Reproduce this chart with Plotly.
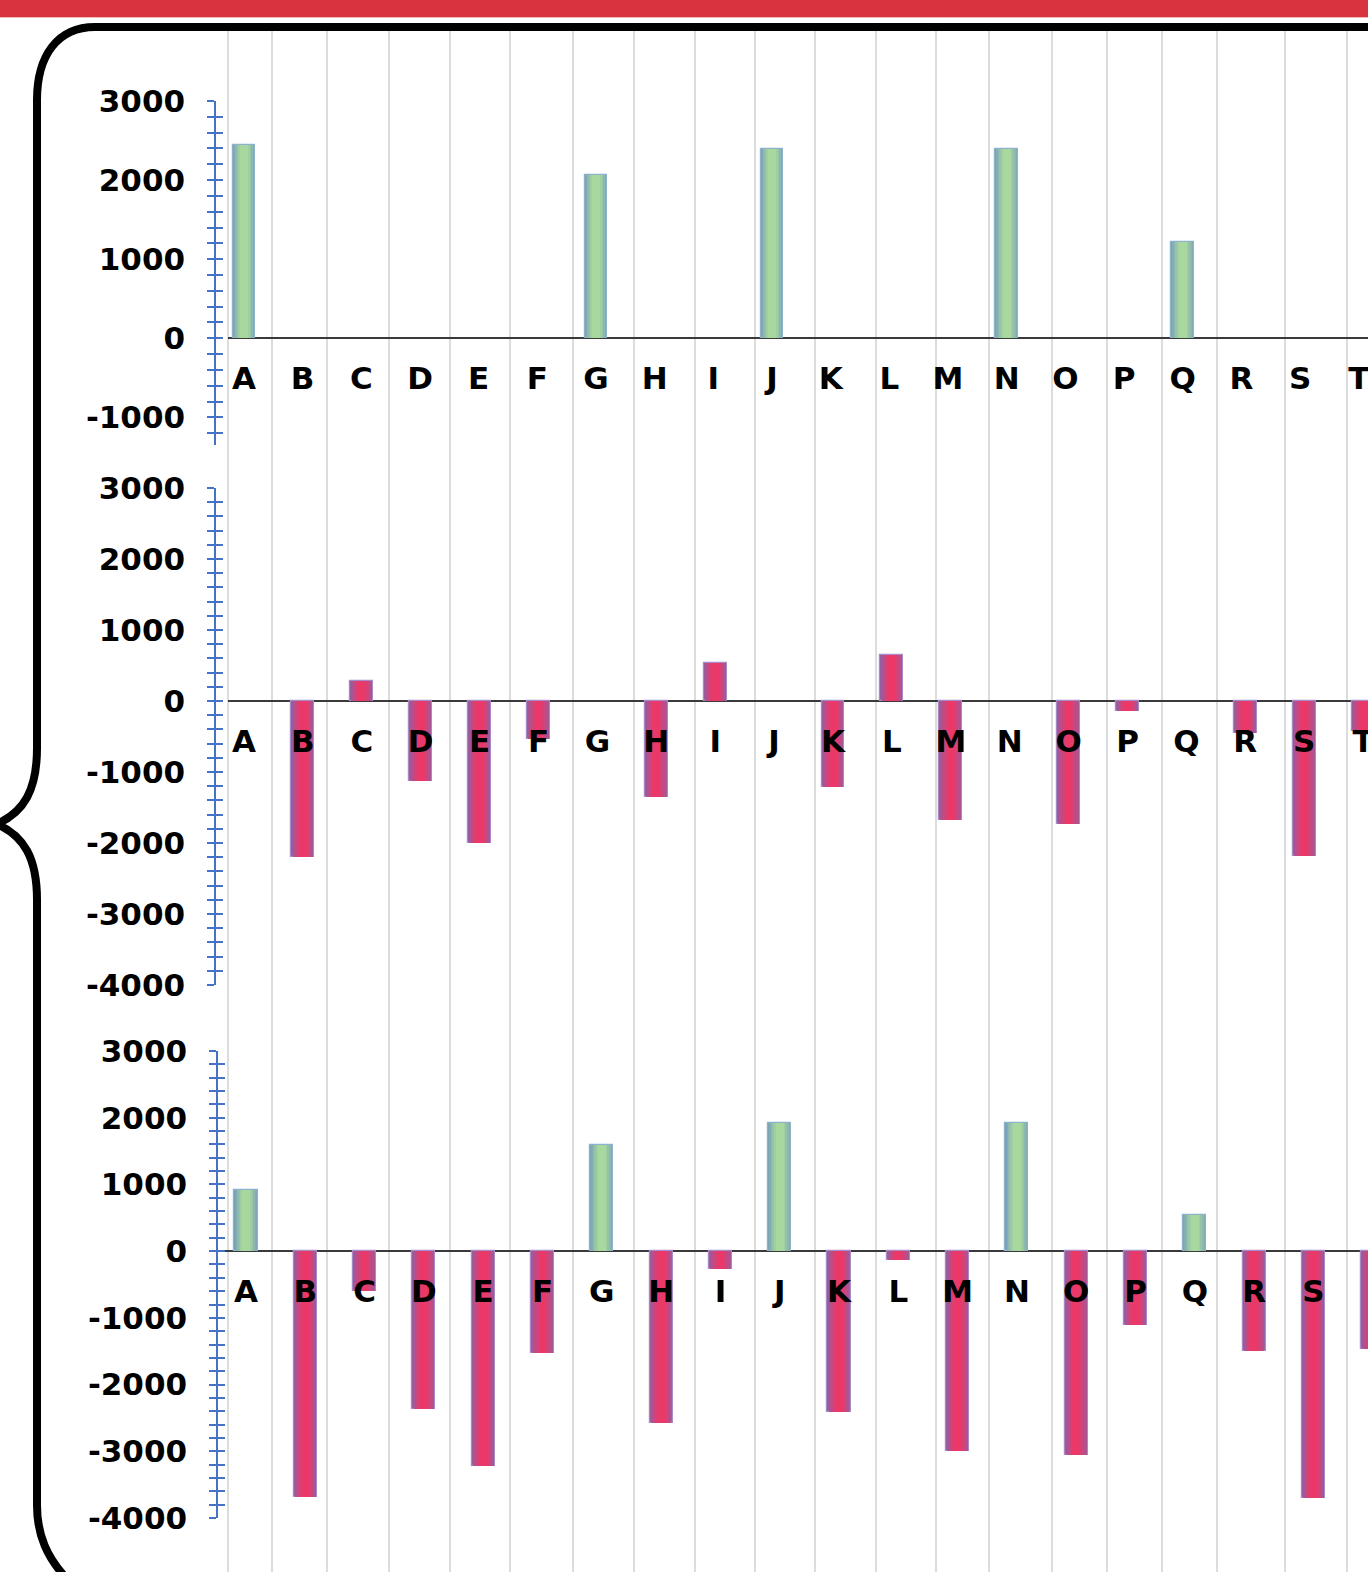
import plotly.graph_objects as go

# ---------------- data ----------------
categories = list("ABCDEFGHIJKLMNOPQRST")

panel1_values = [2440, 0, 0, 0, 0, 0, 2060, 0, 0, 2390, 0, 0, 0, 2390, 0, 0, 1220, 0, 0, 0]
panel2_values = [0, -2200, 280, -1130, -2000, -530, 0, -1350, 540, 0, -1210, 650, -1680, 0, -1730, -140, 0, -450, -2190, -420]
panel3_values = [920, -3690, -600, -2360, -3220, -1530, 1590, -2570, -270, 1920, -2410, -140, -3000, 1920, -3060, -1100, 540, -1490, -3700, -1460]

y_tick_vals = [-4000, -3000, -2000, -1000, 0, 1000, 2000, 3000]
y_tick_text = ["-4000", "-3000", "-2000", "-1000", "0", "1000", "2000", "3000"]

# ---------------- layout helpers ----------------
W, H = 1368, 1572


def px(x):
    return x / W


def py(y):
    return 1 - y / H


FONT = "DejaVu Sans"
AXIS_BLUE = "#4472c4"

GREEN_EDGE, GREEN_CENTER, GREEN_LINE = (122, 164, 182), (168, 216, 157), "#8db3cc"
RED_EDGE, RED_CENTER, RED_LINE = (150, 92, 160), (234, 57, 104), "#a88ac8"


def mix(a, b, t):
    return "rgb({},{},{})".format(*[round(a[k] + (b[k] - a[k]) * t) for k in range(3)])


# panel geometry; colour mode: 'green', 'red' or 'sign'
panels = [
    dict(vals=panel1_values, mode="green", yr=[-1350, 3000], top=101, bot=445, xl=228, c0=244, sp=58.67, ya=215),
    dict(vals=panel2_values, mode="red", yr=[-4000, 3000], top=488, bot=985, xl=228, c0=244, sp=58.9, ya=215),
    dict(vals=panel3_values, mode="sign", yr=[-4000, 3000], top=1051, bot=1518, xl=225, c0=246, sp=59.3, ya=217),
]

fig = go.Figure()

layer_widths = [0.39, 0.35, 0.30, 0.25, 0.19, 0.13]

layout_axes = {}
for i, p in enumerate(panels):
    n = i + 1
    xa = "x" if n == 1 else f"x{n}"
    ya = "y" if n == 1 else f"y{n}"
    xkey = "xaxis" if n == 1 else f"xaxis{n}"
    ykey = "yaxis" if n == 1 else f"yaxis{n}"
    vals = p["vals"]

    def is_green(v):
        if p["mode"] == "green":
            return True
        if p["mode"] == "red":
            return False
        return v >= 0

    nl = len(layer_widths)
    for layer, w in enumerate(layer_widths):
        t = layer / (nl - 1)
        cols = [mix(GREEN_EDGE, GREEN_CENTER, t) if is_green(v) else mix(RED_EDGE, RED_CENTER, t) for v in vals]
        line_cols = [GREEN_LINE if is_green(v) else RED_LINE for v in vals]
        line_w = [(1.2 if (layer == 0 and v != 0) else 0) for v in vals]
        fig.add_trace(go.Bar(
            x=categories, y=vals, xaxis=xa, yaxis=ya,
            width=w,
            marker=dict(color=cols, line=dict(color=line_cols, width=line_w)),
            showlegend=False, hoverinfo="x+y" if layer == 0 else "skip",
        ))

    d0, d1 = py(p["bot"]), py(p["top"])
    r0, r1 = p["yr"]
    zero_pos = d0 + (0 - r0) / (r1 - r0) * (d1 - d0)
    xr0 = -(p["c0"] - p["xl"]) / p["sp"]
    xr1 = (W - p["c0"]) / p["sp"]

    ticks_here = [(v, t) for v, t in zip(y_tick_vals, y_tick_text) if r0 <= v <= r1]

    layout_axes[xkey] = dict(
        domain=[px(p["xl"]), 1], range=[xr0, xr1], anchor="free", position=zero_pos,
        type="category", categoryorder="array", categoryarray=categories,
        showline=False, showgrid=False, zeroline=False, ticks="",
        tickfont=dict(family=FONT, size=31, color="black", weight="bold"),
        ticklabelstandoff=19, fixedrange=True, automargin=False,
    )
    layout_axes[ykey] = dict(
        domain=[d0, d1], range=p["yr"], anchor="free", position=px(p["ya"]),
        showline=True, linecolor=AXIS_BLUE, linewidth=1.5,
        showgrid=False, zeroline=True, zerolinecolor="#3a3a3a", zerolinewidth=2,
        tickvals=[v for v, _ in ticks_here], ticktext=[t for _, t in ticks_here],
        ticks="outside", ticklen=7, tickwidth=1.5, tickcolor=AXIS_BLUE,
        minor=dict(dtick=200, tick0=0, ticks="outside", ticklen=7, tickwidth=1.5, tickcolor=AXIS_BLUE),
        tickfont=dict(family=FONT, size=31, color="black", weight="bold"),
        ticklabelstandoff=16, fixedrange=True, automargin=False,
    )
    okey = f"yaxis{n + 3}"
    layout_axes[okey] = dict(
        overlaying=ya, domain=[d0, d1], range=p["yr"], anchor="free", position=px(p["ya"]),
        showline=False, showgrid=False, zeroline=False, showticklabels=False,
        tickvals=[v for v, _ in ticks_here],
        ticks="inside", ticklen=7, tickwidth=1.5, tickcolor=AXIS_BLUE,
        minor=dict(dtick=200, tick0=0, ticks="inside", ticklen=7, tickwidth=1.5, tickcolor=AXIS_BLUE),
        fixedrange=True, automargin=False,
    )
    fig.add_trace(go.Scatter(x=[categories[0]], y=[0], xaxis=xa, yaxis=f"y{n + 3}",
                             mode="markers", marker=dict(opacity=0), showlegend=False,
                             hoverinfo="skip"))

# ---------------- decorations ----------------
shapes = []
grid_x = [228, 272, 327, 389, 450, 510, 573, 634, 695, 755, 815, 876, 936, 989,
          1052, 1107, 1162, 1217, 1285, 1347]
for gx in grid_x:
    shapes.append(dict(type="line", xref="paper", yref="paper", x0=px(gx), x1=px(gx),
                       y0=py(31), y1=py(1572), line=dict(color="#dcdcdc", width=2), layer="below"))

shapes.append(dict(type="rect", xref="paper", yref="paper", x0=0, x1=1, y0=py(17), y1=1,
                   fillcolor="#d9343e", line=dict(width=0), layer="above"))
shapes.append(dict(type="line", xref="paper", yref="paper", x0=0, x1=1, y0=py(17.5), y1=py(17.5),
                   line=dict(color="#f2b8bc", width=1), layer="above"))


def P(x, y):
    return f"{px(x):.5f},{py(y):.5f}"


brace = (
    f"M {P(1372, 27)} L {P(95, 27)} C {P(58, 27)} {P(37, 55)} {P(37, 100)} "
    f"L {P(37, 748)} C {P(37, 790)} {P(24, 812)} {P(-3, 824)} "
    f"C {P(24, 836)} {P(37, 858)} {P(37, 900)} "
    f"L {P(37, 1505)} C {P(37, 1535)} {P(47, 1558)} {P(68, 1580)}"
)
shapes.append(dict(type="path", xref="paper", yref="paper", path=brace,
                   line=dict(color="black", width=8), layer="above"))

fig.update_layout(
    width=W, height=H, autosize=False,
    margin=dict(l=0, r=0, t=0, b=0, pad=0),
    paper_bgcolor="white", plot_bgcolor="rgba(0,0,0,0)",
    barmode="overlay", bargap=0,
    shapes=shapes,
    showlegend=False,
    **layout_axes,
)

fig.write_html(
    "out.html",
    config={"displayModeBar": False, "responsive": False},
    post_script=(
        "document.body.style.margin='0';"
        "document.body.style.padding='0';"
        "document.body.style.overflow='hidden';"
        "document.documentElement.style.overflow='hidden';"
    ),
)
